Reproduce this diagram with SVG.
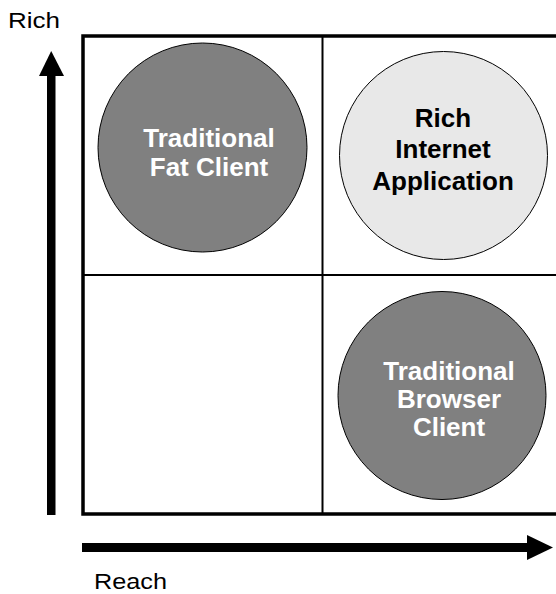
<svg xmlns="http://www.w3.org/2000/svg" width="556" height="594" viewBox="0 0 556 594">
  <style>
    .frame { fill: none; stroke: #000; stroke-width: 3.5; }
    .divider { stroke: #000; stroke-width: 2; }
    .bubble { stroke: #000; stroke-width: 1; }
    .dark { fill: #808080; }
    .light { fill: #e8e8e8; }
    .lbl { font-family: "Liberation Sans", Arial, sans-serif; font-weight: bold; font-size: 26px; text-anchor: middle; }
    .lbl-dark { fill: #fff; }
    .lbl-light { fill: #000; }
    .axis { font-family: "Liberation Sans", Arial, sans-serif; font-size: 22px; fill: #000; }
  </style>
  <rect width="556" height="594" fill="#fff"/>

  <!-- quadrant grid -->
  <g id="grid">
    <rect class="frame" x="83" y="36" width="500" height="478"/>
    <line class="divider" x1="322.5" y1="36" x2="322.5" y2="514"/>
    <line class="divider" x1="83" y1="275" x2="556" y2="275"/>
  </g>

  <!-- axes -->
  <g id="connectors">
    <g id="axis-rich">
      <rect x="47" y="74" width="8.5" height="441" fill="#000"/>
      <polygon points="51.2,51 39,76 64,76" fill="#000"/>
    </g>
    <g id="axis-reach">
      <rect x="82" y="543" width="447" height="9" fill="#000"/>
      <polygon points="527,535 553,547.5 527,560" fill="#000"/>
    </g>
  </g>

  <g id="label-rich">
    <text class="axis" x="8" y="28" textLength="52" lengthAdjust="spacingAndGlyphs">Rich</text>
  </g>
  <g id="label-reach">
    <text class="axis" x="94" y="589" textLength="73" lengthAdjust="spacingAndGlyphs">Reach</text>
  </g>

  <!-- quadrant nodes -->
  <g id="fat-client">
    <circle class="bubble dark" cx="202.5" cy="147.5" r="104.5"/>
    <text class="lbl lbl-dark" x="209" y="147">Traditional</text>
    <text class="lbl lbl-dark" x="209" y="176">Fat Client</text>
  </g>

  <g id="rich-internet-app">
    <circle class="bubble light" cx="443.5" cy="155.5" r="104"/>
    <text class="lbl lbl-light" x="443" y="127">Rich</text>
    <text class="lbl lbl-light" x="443" y="158">Internet</text>
    <text class="lbl lbl-light" x="443" y="190">Application</text>
  </g>

  <g id="browser-client">
    <circle class="bubble dark" cx="442" cy="395.5" r="104"/>
    <text class="lbl lbl-dark" x="449" y="380">Traditional</text>
    <text class="lbl lbl-dark" x="449" y="408">Browser</text>
    <text class="lbl lbl-dark" x="449" y="436">Client</text>
  </g>
</svg>
